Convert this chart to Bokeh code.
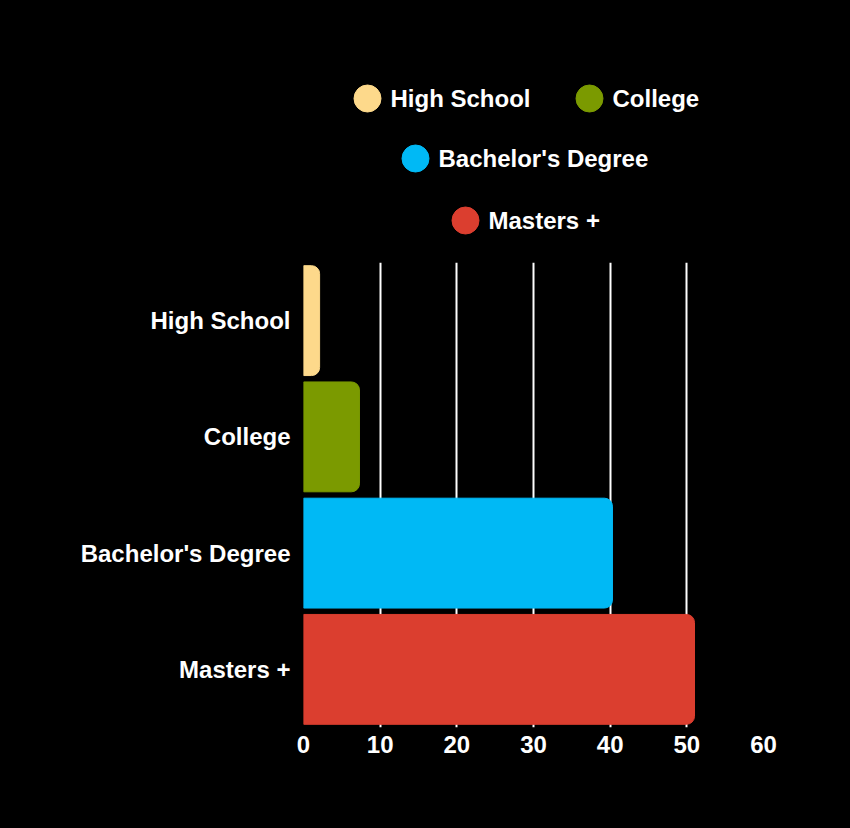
from bokeh.plotting import figure
from bokeh.models import Range1d, FactorRange, ColumnDataSource, FixedTicker
from bokeh.layouts import column
from bokeh.core.properties import value
from bokeh.embed import file_html
from bokeh.resources import INLINE

# ---- data ----
categories = ["High School", "College", "Bachelor's Degree", "Masters +"]
values = [2.1, 7.3, 40.3, 51.0]
colors = ["#FDD98B", "#7B9A00", "#00B9F5", "#DB3E2F"]
x_ticks = [0, 10, 20, 30, 40, 50, 60]

# legend layout (pixel positions within legend strip)
legend_cx = [367, 589, 415, 465]
legend_cy = [98, 98, 158, 220]

FONT = "Liberation Sans"
BG = "#000000"

# ---- legend strip ----
LW, LH = 842, 247
lg = figure(width=LW, height=LH, output_backend="svg", toolbar_location=None,
            x_range=Range1d(0, LW), y_range=Range1d(LH, 0),
            min_border=0, min_border_left=0, min_border_right=0,
            min_border_top=0, min_border_bottom=0, frame_align=False,
            background_fill_color=BG, border_fill_color=BG, outline_line_color=None)
lg.axis.visible = False
lg.grid.visible = False
lsrc = ColumnDataSource(dict(x=legend_cx, y=legend_cy, tx=[v + 23 for v in legend_cx],
                             label=categories, color=colors))
lg.scatter(x="x", y="y", size=27, marker="circle", color="color", source=lsrc)
lg.text(x="tx", y="y", text="label", source=lsrc, text_color="white",
        text_font=value(FONT), text_font_style="bold", text_font_size="24px",
        text_baseline="middle", text_align="left")

# ---- main chart ----
ycats = list(reversed(categories))
p = figure(y_range=FactorRange(*ycats, range_padding=0), x_range=Range1d(0, 60),
           frame_width=460, frame_height=465, width=842, height=576,
           min_border_left=303, min_border_right=79, min_border_top=15, min_border_bottom=96,
           output_backend="svg", toolbar_location=None, frame_align=False,
           background_fill_color=BG, border_fill_color=BG, outline_line_color=None)
src = ColumnDataSource(dict(y=categories, right=values, color=colors))
p.hbar(y="y", left=0, right="right", height=0.945, color="color", source=src,
       border_radius=(0, 8, 8, 0))

p.xgrid.ticker = FixedTicker(ticks=x_ticks)
p.xgrid.grid_line_color = "white"
p.xgrid.grid_line_width = 2
p.ygrid.visible = False
p.xaxis.ticker = FixedTicker(ticks=x_ticks)
for ax in (p.xaxis[0], p.yaxis[0]):
    ax.axis_line_color = None
    ax.major_tick_line_color = None
    ax.minor_tick_line_color = None
    ax.major_label_text_color = "white"
    ax.major_label_text_font = FONT
    ax.major_label_text_font_style = "bold"
    ax.major_label_text_font_size = "24px"
p.xaxis.major_label_standoff = 2
p.yaxis.major_label_standoff = 7

layout = column(lg, p, spacing=0, background=BG)

html = file_html(layout, INLINE)
html = html.replace("<body>", '<body style="background-color:#000000;">')
open("out.html", "w").write(html)
